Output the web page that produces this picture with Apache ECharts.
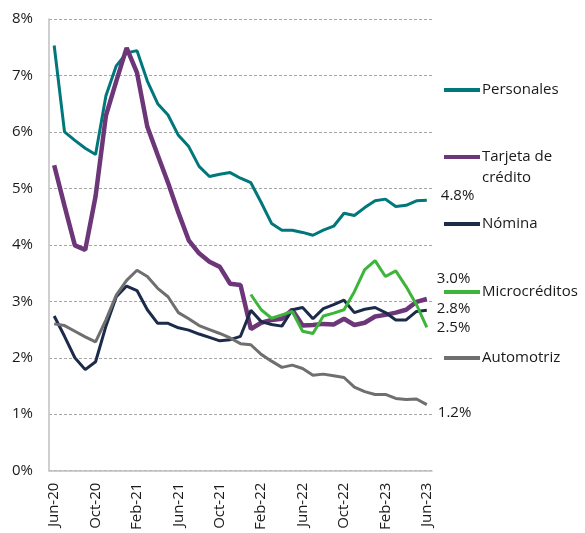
<!DOCTYPE html>
<html>
<head>
<meta charset="utf-8">
<script src="https://cdn.jsdelivr.net/npm/echarts@6/dist/echarts.min.js"></script>
<style>
html,body{margin:0;padding:0;background:#fff;}
#chart{width:585px;height:533px;}
</style>
</head>
<body>
<div id="chart"></div>
<script>
const months = ['Jun-20','Jul-20','Aug-20','Sep-20','Oct-20','Nov-20','Dec-20','Jan-21','Feb-21','Mar-21','Apr-21','May-21','Jun-21','Jul-21','Aug-21','Sep-21','Oct-21','Nov-21','Dec-21','Jan-22','Feb-22','Mar-22','Apr-22','May-22','Jun-22','Jul-22','Aug-22','Sep-22','Oct-22','Nov-22','Dec-22','Jan-23','Feb-23','Mar-23','Apr-23','May-23','Jun-23'];
const personales = [7.53,6.00,5.85,5.71,5.60,6.64,7.17,7.40,7.44,6.90,6.50,6.30,5.94,5.74,5.39,5.21,5.25,5.28,5.18,5.10,4.75,4.38,4.26,4.26,4.22,4.17,4.26,4.33,4.56,4.52,4.66,4.78,4.81,4.68,4.70,4.78,4.79];
const tarjeta = [5.41,4.69,3.99,3.91,4.86,6.29,6.90,7.49,7.05,6.09,5.59,5.10,4.57,4.08,3.85,3.70,3.61,3.31,3.29,2.51,2.62,2.67,2.69,2.85,2.57,2.58,2.60,2.59,2.69,2.58,2.62,2.73,2.76,2.80,2.85,2.99,3.04];
const nomina = [2.74,2.38,2.00,1.79,1.93,2.56,3.08,3.27,3.19,2.85,2.61,2.61,2.53,2.49,2.42,2.36,2.30,2.32,2.38,2.84,2.64,2.59,2.56,2.85,2.89,2.69,2.87,2.94,3.02,2.80,2.86,2.89,2.80,2.67,2.67,2.82,2.84];
const microcreditos = [null,null,null,null,null,null,null,null,null,null,null,null,null,null,null,null,null,null,null,3.12,2.85,2.70,2.76,2.82,2.47,2.43,2.74,2.79,2.85,3.17,3.56,3.72,3.44,3.54,3.26,2.94,2.54];
const automotriz = [2.60,2.57,2.47,2.37,2.28,2.67,3.11,3.37,3.55,3.44,3.23,3.08,2.80,2.69,2.57,2.50,2.43,2.35,2.25,2.23,2.06,1.94,1.83,1.87,1.81,1.69,1.71,1.68,1.65,1.48,1.40,1.35,1.35,1.28,1.26,1.27,1.17];
const yTicks = [0,1,2,3,4,5,6,7,8];

const FONT = 'Open Sans';
const colors = {
  personales: '#00777A',
  tarjeta: '#6D3679',
  nomina: '#1C2B4A',
  micro: '#3DB53A',
  auto: '#6F6F6F'
};

function mkSeries(name, data, color, width, off) {
  return {
    name: name, type: 'line', data: data,
    showSymbol: false, symbol: 'none',
    lineStyle: {color: color, width: width},
    itemStyle: {color: color},
    connectNulls: false,
    endLabel: {
      show: true,
      formatter: p => p.value.toFixed(1) + '%',
      color: '#1a1a1a', fontFamily: FONT, fontSize: 15,
      offset: off
    },
    z: 2
  };
}

function legendFor(name, top, fmt) {
  return {
    data: [name], left: 444, top: top, orient: 'vertical',
    icon: 'rect', itemWidth: 36, itemHeight: 4, itemGap: 0, itemStyle: {borderWidth: 0},
    textStyle: {fontFamily: FONT, fontSize: 15, color: '#1a1a1a', lineHeight: 21, padding: [0,0,0,-3]},
    formatter: fmt || (n => n),
    selectedMode: false, padding: 0
  };
}

const chart = echarts.init(document.getElementById('chart'), null, {renderer: 'canvas'});
chart.setOption({
  animation: false,
  backgroundColor: '#fff',
  grid: {left: 49, right: 153, top: 19, bottom: 57, containLabel: false},
  legend: [
    legendFor('Personales', 79.5),
    legendFor('Tarjeta de crédito', 125.5, n => '\nTarjeta de\ncrédito'),
    legendFor('Nómina', 213.5),
    legendFor('Microcréditos', 281.5),
    legendFor('Automotriz', 347.5)
  ],
  xAxis: {
    type: 'category', data: months, boundaryGap: true,
    axisLine: {show: true, lineStyle: {color: '#BFBFBF', width: 1.5}},
    axisTick: {show: false},
    axisLabel: {interval: 3, rotate: 90, margin: 12, fontFamily: FONT, fontSize: 15, color: '#1a1a1a'},
    splitLine: {show: false}
  },
  yAxis: {
    type: 'value', min: 0, max: 8, interval: 1,
    axisLine: {show: true, lineStyle: {color: '#BFBFBF', width: 1.5}},
    axisTick: {show: false},
    axisLabel: {formatter: v => v + '%', margin: 16, fontFamily: FONT, fontSize: 15, color: '#1a1a1a'},
    splitLine: {show: true, lineStyle: {color: '#A6A6A6', type: [3,2], width: 1}}
  },
  series: [
    mkSeries('Personales', personales, colors.personales, 3, [6,-5]),
    mkSeries('Tarjeta de crédito', tarjeta, colors.tarjeta, 4.5, [2,-20]),
    mkSeries('Nómina', nomina, colors.nomina, 3, [2,-2]),
    mkSeries('Microcréditos', microcreditos, colors.micro, 3, [2,0]),
    mkSeries('Automotriz', automotriz, colors.auto, 3, [3,8])
  ]
});
</script>
</body>
</html>
